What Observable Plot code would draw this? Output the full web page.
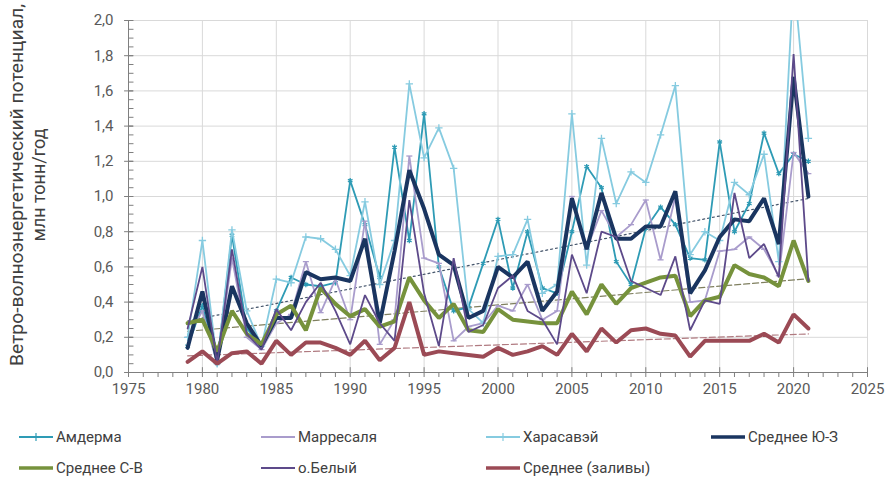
<!DOCTYPE html>
<html><head><meta charset="utf-8">
<script src="https://cdn.jsdelivr.net/npm/d3@7"></script>
<script src="https://cdn.jsdelivr.net/npm/@observablehq/plot@0.6"></script>
<style>
body{margin:0;background:#fff;font-family:Roboto,"Noto Sans",sans-serif;}
#wrap{position:relative;width:891px;height:488px;overflow:hidden;}
#wrap > svg{position:absolute;left:0;top:0;}
.leg{position:absolute;font-size:15px;color:#404040;display:flex;align-items:center;height:20px;white-space:nowrap;}
.leg svg{margin-right:2px;}
</style></head><body><div id="wrap"></div>
<script>
const years = [1979,1980,1981,1982,1983,1984,1985,1986,1987,1988,1989,1990,1991,1992,1993,1994,1995,1996,1997,1998,1999,2000,2001,2002,2003,2004,2005,2006,2007,2008,2009,2010,2011,2012,2013,2014,2015,2016,2017,2018,2019,2020,2021];
const amderma   = [0.15,0.38,0.05,0.78,0.25,0.15,0.35,0.54,0.50,0.49,0.51,1.09,0.84,0.54,1.28,0.75,1.47,0.60,0.35,0.37,0.62,0.87,0.48,0.80,0.48,0.45,0.80,1.17,1.05,0.63,0.50,0.82,0.94,0.84,0.65,0.64,1.31,0.80,0.96,1.36,1.13,1.24,1.20];
const marresale = [0.20,0.35,0.05,0.65,0.20,0.13,0.28,0.33,0.63,0.34,0.53,0.30,0.86,0.16,0.30,1.23,0.65,0.62,0.18,0.26,0.28,0.38,0.35,0.50,0.30,0.35,1.00,0.70,0.92,0.77,0.84,0.98,0.64,1.00,0.40,0.41,0.69,0.70,0.77,0.70,0.55,1.25,1.13];
const kharasavey= [0.20,0.75,0.05,0.81,0.35,0.15,0.53,0.51,0.77,0.76,0.70,0.55,0.97,0.50,0.75,1.64,1.22,1.39,1.16,0.36,0.28,0.66,0.67,0.87,0.45,0.50,1.47,0.61,1.33,0.96,1.14,1.08,1.35,1.63,0.67,0.80,0.75,1.08,1.01,1.24,0.63,2.25,1.33];
const meanSW    = [0.14,0.46,0.07,0.49,0.28,0.15,0.31,0.31,0.57,0.53,0.54,0.52,0.76,0.28,0.69,1.15,0.93,0.67,0.61,0.31,0.35,0.60,0.54,0.63,0.35,0.46,0.99,0.70,1.02,0.76,0.76,0.83,0.83,1.03,0.45,0.58,0.77,0.87,0.86,0.99,0.73,1.68,1.00];
const meanNE    = [0.28,0.30,0.12,0.35,0.22,0.16,0.33,0.38,0.24,0.48,0.39,0.32,0.36,0.26,0.29,0.54,0.41,0.31,0.39,0.24,0.23,0.36,0.30,0.29,0.28,0.28,0.46,0.33,0.50,0.39,0.48,0.51,0.54,0.55,0.32,0.41,0.43,0.61,0.56,0.54,0.49,0.75,0.52];
const belyi     = [0.25,0.60,0.05,0.70,0.22,0.13,0.36,0.24,0.40,0.51,0.35,0.16,0.44,0.28,0.18,0.98,0.45,0.15,0.65,0.23,0.27,0.48,0.55,0.35,0.30,0.16,0.67,0.45,0.80,0.77,0.52,0.48,0.44,0.66,0.24,0.41,0.39,1.02,0.65,0.73,0.54,1.81,0.52];
const meanBays  = [0.06,0.12,0.05,0.11,0.12,0.05,0.18,0.10,0.17,0.17,0.14,0.10,0.18,0.07,0.14,0.40,0.10,0.12,0.11,0.10,0.09,0.14,0.10,0.12,0.15,0.10,0.22,0.12,0.25,0.17,0.24,0.25,0.22,0.21,0.09,0.18,0.18,0.18,0.18,0.22,0.17,0.33,0.25];

const xTicks = [1975,1980,1985,1990,1995,2000,2005,2010,2015,2020,2025];
const xMinorTicks = d3.range(1975, 2026);
const yTicks = [0,0.2,0.4,0.6,0.8,1.0,1.2,1.4,1.6,1.8,2.0];
const yMinorTicks = d3.range(0, 2.0001, 0.05);

// custom segment symbols (size -> half length)
const hline = {draw(ctx, size){ const r = Math.sqrt(size); ctx.moveTo(-r,0); ctx.lineTo(r,0); }};
const vline = {draw(ctx, size){ const r = Math.sqrt(size); ctx.moveTo(0,-r); ctx.lineTo(0,r); }};

const series = [
  {name:"Амдерма", values:amderma, color:"#2e9bb5", width:1.8, marker:"asterisk"},
  {name:"Марресаля", values:marresale, color:"#a99ccc", width:1.8, marker:hline},
  {name:"Харасавэй", values:kharasavey, color:"#86cbe0", width:1.8, marker:"plus"},
  {name:"Среднее Ю-З", values:meanSW, color:"#1a3560", width:4, trend:"2,3", trendColor:"#44546a"},
  {name:"Среднее С-В", values:meanNE, color:"#76923c", width:4, trend:"6,3", trendColor:"#7f7f5f"},
  {name:"о.Белый", values:belyi, color:"#5d4a8a", width:1.8},
  {name:"Среднее (заливы)", values:meanBays, color:"#9b4a55", width:4, trend:"6,3", trendColor:"#b07a80"}
];
const rows = s => years.map((y,i) => ({year:y, value:s.values[i]}));

const axisColor = "#7f7f7f";
const marks = [
  Plot.ruleY(yTicks, {stroke:"#d9d9d9", strokeWidth:1}),
  Plot.ruleX(xTicks, {stroke:"#d9d9d9", strokeWidth:1}),
];
for (const s of series) if (s.trend) {
  marks.push(Plot.linearRegressionY(rows(s), {x:"year", y:"value", ci:0, stroke:s.trendColor, strokeWidth:1.2, strokeDasharray:s.trend}));
}
for (const s of series) {
  marks.push(Plot.line(rows(s), {x:"year", y:"value", stroke:s.color, strokeWidth:s.width, strokeLinejoin:"miter", clip:true}));
  if (s.marker) marks.push(Plot.dot(rows(s), {x:"year", y:"value", symbol:s.marker, r: s.marker === hline ? 1.7 : 2.5, stroke:s.color, strokeWidth:1.3, clip:true}));
}
// axis lines and tick marks
marks.push(
  Plot.ruleY([0], {stroke:axisColor, strokeWidth:1}),
  Plot.ruleX([1975], {stroke:axisColor, strokeWidth:1}),
  Plot.dot(yTicks, {x:() => 1975, y:d => d, symbol:hline, r:2.5, stroke:axisColor, strokeWidth:1}),
  Plot.dot(yMinorTicks, {x:() => 1975, y:d => d, symbol:hline, r:1.4, dx:2.5, stroke:axisColor, strokeWidth:1}),
  Plot.dot(xTicks, {x:d => d, y:() => 0, symbol:vline, r:1.6, dy:-2.5, stroke:axisColor, strokeWidth:1})
);

const chart = Plot.plot({
  width: 891, height: 412,
  marginLeft: 128, marginRight: 24, marginTop: 20, marginBottom: 40,
  style: {fontSize:"15px", fontFamily:"Roboto, 'Noto Sans', sans-serif", color:"#595959", background:"transparent"},
  x: {domain:[1975,2025], ticks: xMinorTicks, tickFormat: d => d % 5 === 0 ? String(d) : "", tickSize: 5, tickPadding: 6, label: null},
  y: {domain:[0,2], ticks: yTicks, tickFormat: d => d.toFixed(1).replace(".", ","), tickSize: 0, tickPadding: 15, label: null},
  marks
});
chart.querySelectorAll("g[aria-label='x-axis tick'] path, g[aria-label='x-axis'] path").forEach(p => p.setAttribute("stroke", axisColor));
document.getElementById("wrap").appendChild(chart);

// y axis title
const svg = d3.select(chart);
const lbl = svg.append("text")
  .attr("transform", "translate(0,185) rotate(-90)")
  .attr("text-anchor", "middle")
  .style("font-size", "18px").style("fill", "#404040").style("font-family", "Roboto, 'Noto Sans', sans-serif");
lbl.append("tspan").attr("x", 0).attr("y", 23).attr("textLength", 362).attr("lengthAdjust", "spacingAndGlyphs").text("Ветро-волноэнергетический потенциал,");
lbl.append("tspan").attr("x", 0).attr("y", 45).text("млн тонн/год");

// legend
const legendPos = [[18,427],[260,427],[485,427],[710,427],[18,458],[260,458],[485,458]];
const wrap = document.getElementById("wrap");
series.forEach((s, i) => {
  const d = document.createElement("div");
  d.className = "leg";
  d.style.left = legendPos[i][0] + "px";
  d.style.top = legendPos[i][1] + "px";
  const w = s.width > 3 ? 3.5 : 2;
  let mk = "";
  if (s.marker === "asterisk" || s.marker === "plus") mk = `<line x1="18" y1="6" x2="18" y2="14" stroke="${s.color}" stroke-width="1.2"/>`;
  d.innerHTML = `<svg width="36" height="20"><line x1="1" y1="10" x2="35" y2="10" stroke="${s.color}" stroke-width="${w}"/>${mk}</svg><span>${s.name}</span>`;
  wrap.appendChild(d);
});
</script>
</body></html>
